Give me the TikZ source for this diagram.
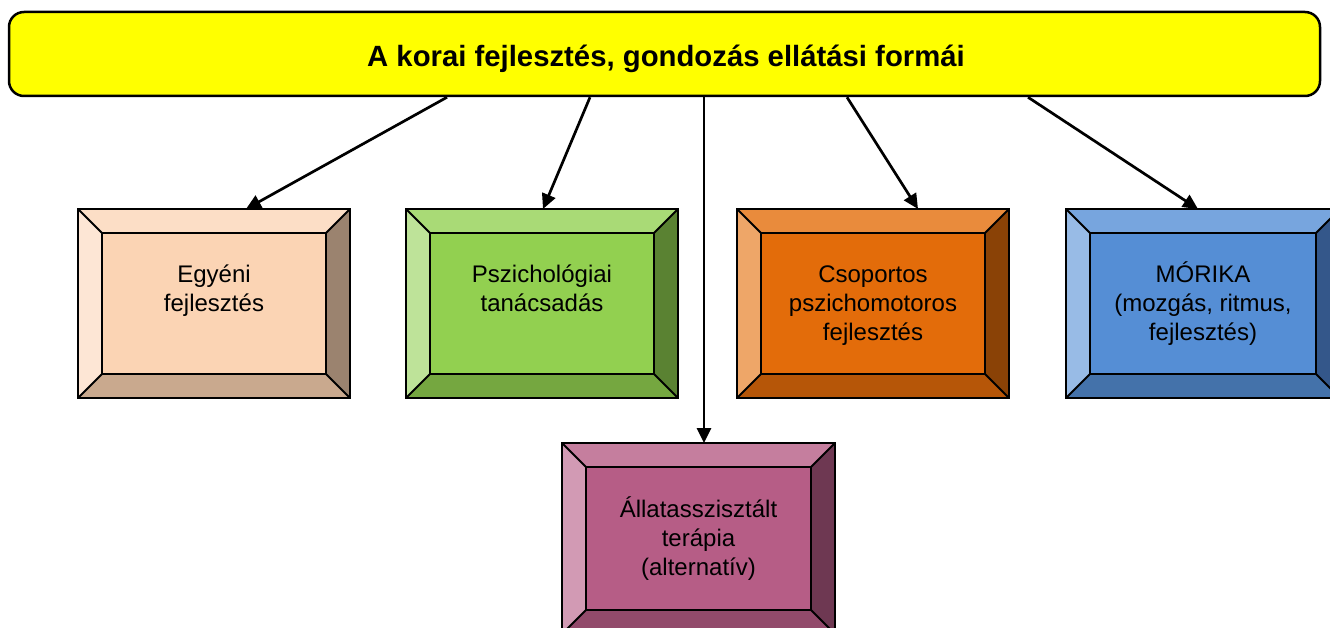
\documentclass[tikz,border=0pt]{standalone}
\usepackage{fontspec}
\setmainfont{Liberation Sans}
\usetikzlibrary{arrows.meta}
\definecolor{bannerYellow}{HTML}{FFFF00}
\definecolor{aIn}{HTML}{FBD4B4}\definecolor{aTop}{HTML}{FCDEC6}\definecolor{aLeft}{HTML}{FDE6D5}\definecolor{aRight}{HTML}{9B836F}\definecolor{aBot}{HTML}{C9A98E}
\definecolor{bIn}{HTML}{92D050}\definecolor{bTop}{HTML}{A9DA76}\definecolor{bLeft}{HTML}{BEE399}\definecolor{bRight}{HTML}{5A8232}\definecolor{bBot}{HTML}{75A740}
\definecolor{cIn}{HTML}{E36C0A}\definecolor{cTop}{HTML}{E98B3C}\definecolor{cLeft}{HTML}{EEA668}\definecolor{cRight}{HTML}{8A4206}\definecolor{cBot}{HTML}{B65608}
\definecolor{dIn}{HTML}{558ED5}\definecolor{dTop}{HTML}{77A5DE}\definecolor{dLeft}{HTML}{98BBE6}\definecolor{dRight}{HTML}{34578A}\definecolor{dBot}{HTML}{4472AA}
\definecolor{eIn}{HTML}{B65D86}\definecolor{eTop}{HTML}{C57E9E}\definecolor{eLeft}{HTML}{D29AB4}\definecolor{eRight}{HTML}{6E3852}\definecolor{eBot}{HTML}{924A6B}
\tikzset{
  facet/.style={draw=black, line width=1.8pt, line join=miter},
  conn/.style={line width=2.7pt, -{Triangle[length=15pt,width=14pt]}},
  boxtext/.style={anchor=base, inner sep=0pt, font=\fontsize{24}{29}\selectfont},
  banner/.style={draw=black, line width=2.5pt, fill=bannerYellow, rounded corners=15pt, inner sep=0pt},
}
% #1 name, #2 x1, #3 y1, #4 x2, #5 y2, #6 colour prefix, #7 text
\newcommand\bevelbox[7]{%
  \fill[#6Top]   (#2,#3) -- (#4,#3) -- ({#4-24},{#3+24}) -- ({#2+24},{#3+24}) -- cycle;
  \fill[#6Left]  (#2,#3) -- ({#2+24},{#3+24}) -- ({#2+24},{#5-24}) -- (#2,#5) -- cycle;
  \fill[#6Right] (#4,#3) -- (#4,#5) -- ({#4-24},{#5-24}) -- ({#4-24},{#3+24}) -- cycle;
  \fill[#6Bot]   (#2,#5) -- ({#2+24},{#5-24}) -- ({#4-24},{#5-24}) -- (#4,#5) -- cycle;
  \fill[#6In]    ({#2+24},{#3+24}) rectangle ({#4-24},{#5-24});
  \draw[facet] (#2,#3) rectangle (#4,#5);
  \draw[facet] ({#2+24},{#3+24}) rectangle ({#4-24},{#5-24});
  \draw[facet] (#2,#3) -- ({#2+24},{#3+24}) (#4,#3) -- ({#4-24},{#3+24})
               (#2,#5) -- ({#2+24},{#5-24}) (#4,#5) -- ({#4-24},{#5-24});
  \path ({(#2+#4)/2},#3) node[inner sep=0pt, minimum width={#4-#2}, minimum height={#5-#3}, anchor=north] (#1) {};
  \node[boxtext] at ({(#2+#4)/2},{#3+74}) {\parbox[t]{240pt}{\centering #7}};
}
\begin{document}
\begin{tikzpicture}[x=1pt,y=-1pt]
\useasboundingbox (0,0) rectangle (1330,628);
\begin{scope}
\clip (0,0) rectangle (1330,628);
\node[banner, minimum width=1311pt, minimum height=84pt] (top) at (664.5,54) {};
\node[anchor=base, inner sep=0pt, font=\fontsize{29.3}{34}\selectfont\bfseries] (title) at (666,67) {A korai fejlesztés, gondozás ellátási formái};
\bevelbox{b1}{78}{209}{350}{398}{a}{Egyéni\\fejlesztés}
\bevelbox{b2}{406}{209}{678}{398}{b}{Pszichológiai\\tanácsadás}
\bevelbox{b3}{737}{209}{1009}{398}{c}{Csoportos\\pszichomotoros\\fejlesztés}
\bevelbox{b4}{1066}{209}{1340}{398}{d}{MÓRIKA\\(mozgás, ritmus,\\fejlesztés)}
\bevelbox{b5}{562}{443}{835}{634}{e}{Állatasszisztált\\terápia\\(alternatív)}
\coordinate (s1) at (447,96); \coordinate (t1) at (246,209);
\coordinate (s2) at (590,96); \coordinate (t2) at (543,209);
\coordinate (s3) at (704,96); \coordinate (t3) at (704,443);
\coordinate (s4) at (847,96); \coordinate (t4) at (918,209);
\coordinate (s5) at (1028,96); \coordinate (t5) at (1198,209);
\draw[conn] (s1 |- top.south) -- (t1 |- b1.north);
\draw[conn] (s2 |- top.south) -- (t2 |- b2.north);
\draw[conn] (s3 |- top.south) -- (t3 |- b5.north);
\draw[conn] (s4 |- top.south) -- (t4 |- b3.north);
\draw[conn] (s5 |- top.south) -- (t5 |- b4.north);
\end{scope}
\end{tikzpicture}
\end{document}
